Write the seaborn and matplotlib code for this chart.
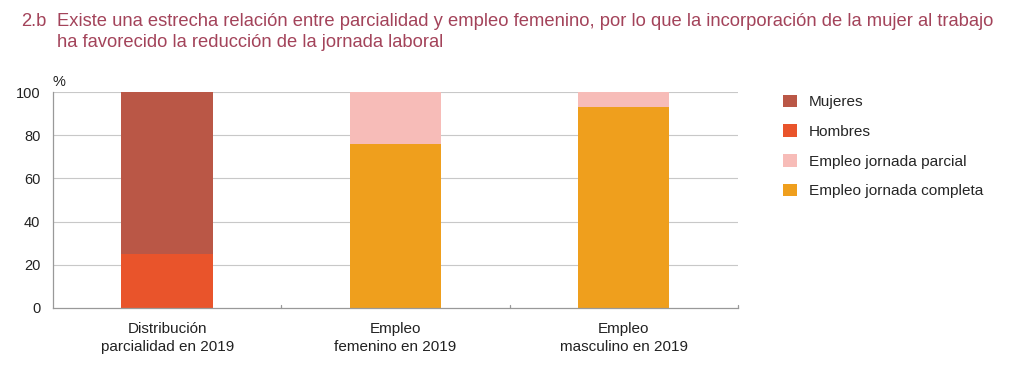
import matplotlib as mpl
import matplotlib.pyplot as plt
import numpy as np
import seaborn as sns
from matplotlib.patches import Patch

CATEGORIES = [
    "Distribución\nparcialidad en 2019",
    "Empleo\nfemenino en 2019",
    "Empleo\nmasculino en 2019",
]
HOMBRES = [25, 0, 0]
MUJERES = [75, 0, 0]
COMPLETA = [0, 76, 93]
PARCIAL = [0, 24, 7]

SERIES = [
    ("Mujeres", MUJERES, HOMBRES, "#ba5746"),
    ("Hombres", HOMBRES, None, "#e9542b"),
    ("Empleo jornada parcial", PARCIAL, COMPLETA, "#f7bcb8"),
    ("Empleo jornada completa", COMPLETA, None, "#ef9f1d"),
]

TITLE_NUM = "2.b"
TITLE = ("Existe una estrecha relación entre parcialidad y empleo femenino, por lo que la incorporación de la mujer al trabajo\n"
         "ha favorecido la reducción de la jornada laboral")

sns.set_theme(style="white")
mpl.rcParams["font.family"] = ["Liberation Sans", "DejaVu Sans"]

fig = plt.figure(figsize=(10.23, 3.67), dpi=100)
ax = fig.add_axes([0.0518, 0.1608, 0.6696, 0.5885])

for label, vals, bottom, color in SERIES:
    sns.barplot(x=CATEGORIES, y=vals, color=color, width=0.4,
                bottom=bottom if bottom is not None else 0,
                saturation=1, linewidth=0, ax=ax)

ax.set_ylim(0, 100)
ax.set_xlim(-0.5, 2.5)
ax.set_yticks(np.arange(0, 101, 20))
for y in range(20, 101, 20):
    ax.axhline(y, color="#c8c8c8", linewidth=0.8, zorder=0)
for s in ["top", "right"]:
    ax.spines[s].set_visible(False)
for s in ["left", "bottom"]:
    ax.spines[s].set_color("#999999")
    ax.spines[s].set_linewidth(0.9)
ax.tick_params(axis="y", length=0, labelsize=10.5, pad=9, colors="#222222")
ax.tick_params(axis="x", length=0, labelsize=11, pad=10, colors="#222222")
for lbl in ax.get_xticklabels():
    lbl.set_linespacing(1.35)
for xt in [0.5, 1.5, 2.5]:
    ax.plot([xt, xt], [0, 1.5], color="#999999", linewidth=0.9, clip_on=False)
ax.set_xlabel("")
ax.text(0.0, 1.03, "%", transform=ax.transAxes, fontsize=10.5, color="#222222")

handles = [Patch(facecolor=c, edgecolor="none", label=l) for l, _, _, c in SERIES]
fig.legend(handles=handles, loc="upper left", bbox_to_anchor=(0.752, 0.78),
           frameon=False, fontsize=11.1, handlelength=0.9, handleheight=0.9,
           labelspacing=0.97, handletextpad=0.75)

fig.text(0.021, 0.965, TITLE_NUM, fontsize=13.2, color="#a3435a", va="top", ha="left")
fig.text(0.056, 0.965, TITLE, fontsize=13.2, color="#a3435a", va="top", ha="left",
         linespacing=1.3)

fig.savefig("out.png", dpi=100, facecolor="white")
